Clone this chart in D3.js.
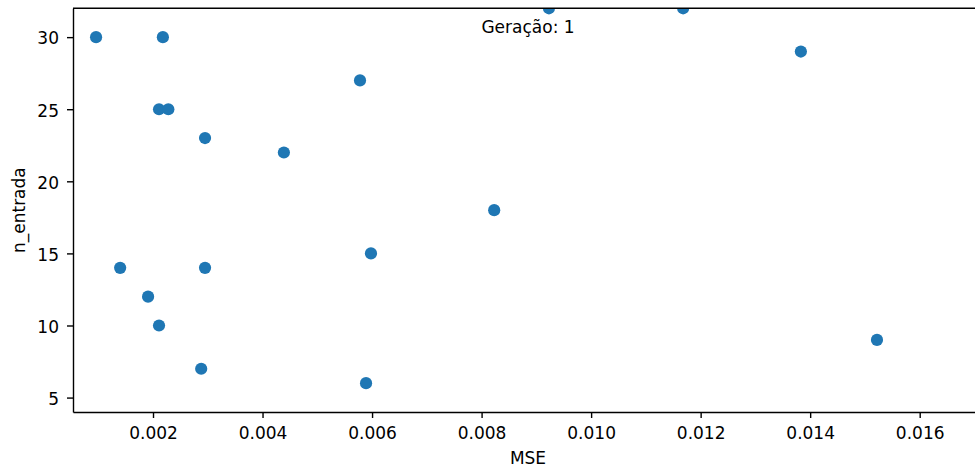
<!DOCTYPE html>
<html>
<head>
<meta charset="utf-8">
<script src="https://cdn.jsdelivr.net/npm/d3@7"></script>
<style>
  body { margin: 0; background: #fff; }
  svg text { font-family: "DejaVu Sans", sans-serif; fill: #000; }
</style>
</head>
<body>
<svg class="scatter" width="975" height="469"></svg>
<script>
// valores (geração 1)
var mse = [0.00096, 0.00218, 0.00211, 0.00228, 0.00295, 0.00439, 0.00578, 0.00923, 0.01168,
    0.01383, 0.00823, 0.00598, 0.00140, 0.00295, 0.00191, 0.00211, 0.00288, 0.00589, 0.01522];
var nEntrada = [30, 30, 25, 25, 23, 22, 27, 32, 32,
    29, 18, 15, 14, 14, 12, 10, 7, 6, 9];
var xTicks = [0.002, 0.004, 0.006, 0.008, 0.010, 0.012, 0.014, 0.016];
var yTicks = [5, 10, 15, 20, 25, 30];
var geracao = 1;

var svg = d3.select('svg.scatter');
var mLeft = 73, mRight = 983, mTop = 8.3, mBottom = 412;
var fontSize = '17px';

var x = d3.scaleLinear().domain([0.000539, 0.017156]).range([mLeft, mRight]);
var y = d3.scaleLinear().domain([4, 32]).range([mBottom, mTop]);

var points = mse.map(function (m, i) {
    return { mse: m, n: nEntrada[i] };
});

svg.append('clipPath')
    .attr('id', 'area')
    .append('rect')
    .attr('x', mLeft)
    .attr('y', mTop)
    .attr('width', mRight - mLeft)
    .attr('height', mBottom - mTop);

svg.append('g')
    .attr('clip-path', 'url(#area)')
    .selectAll('circle')
    .data(points)
    .enter()
    .append('circle')
    .attr('cx', function (d) { return x(d.mse); })
    .attr('cy', function (d) { return y(d.n); })
    .attr('r', 6.1)
    .attr('fill', '#1f77b4');

var xAxis = svg.append('g')
    .attr('transform', 'translate(0,' + mBottom + ')')
    .call(d3.axisBottom(x).tickValues(xTicks).tickFormat(d3.format('.3f')).tickSize(6).tickPadding(9).tickSizeOuter(0));

var yAxis = svg.append('g')
    .attr('transform', 'translate(' + mLeft + ',0)')
    .call(d3.axisLeft(y).tickValues(yTicks).tickSize(6).tickPadding(8).tickSizeOuter(0));

[xAxis, yAxis].forEach(function (g) {
    g.select('.domain').attr('stroke', '#000').attr('stroke-width', 1.4);
    g.selectAll('.tick line').attr('stroke', '#000').attr('stroke-width', 1.4);
    g.selectAll('.tick text')
        .style('font-family', '"DejaVu Sans", sans-serif')
        .style('font-size', fontSize)
        .attr('fill', '#000');
});
yAxis.selectAll('.tick text').attr('dy', '0.4em');

// linha superior
svg.append('line')
    .attr('x1', mLeft)
    .attr('x2', mRight)
    .attr('y1', mTop)
    .attr('y2', mTop)
    .attr('stroke', '#000')
    .attr('stroke-width', 1.4);

svg.append('text')
    .attr('x', (mLeft + mRight) / 2)
    .attr('y', 33)
    .attr('text-anchor', 'middle')
    .style('font-size', fontSize)
    .text('Geração: ' + geracao);

svg.append('text')
    .attr('x', (mLeft + mRight) / 2)
    .attr('y', 464)
    .attr('text-anchor', 'middle')
    .style('font-size', fontSize)
    .text('MSE');

svg.append('text')
    .attr('transform', 'translate(25,' + ((mTop + mBottom) / 2) + ') rotate(-90)')
    .attr('text-anchor', 'middle')
    .style('font-size', fontSize)
    .text('n_entrada');
</script>
</body>
</html>
